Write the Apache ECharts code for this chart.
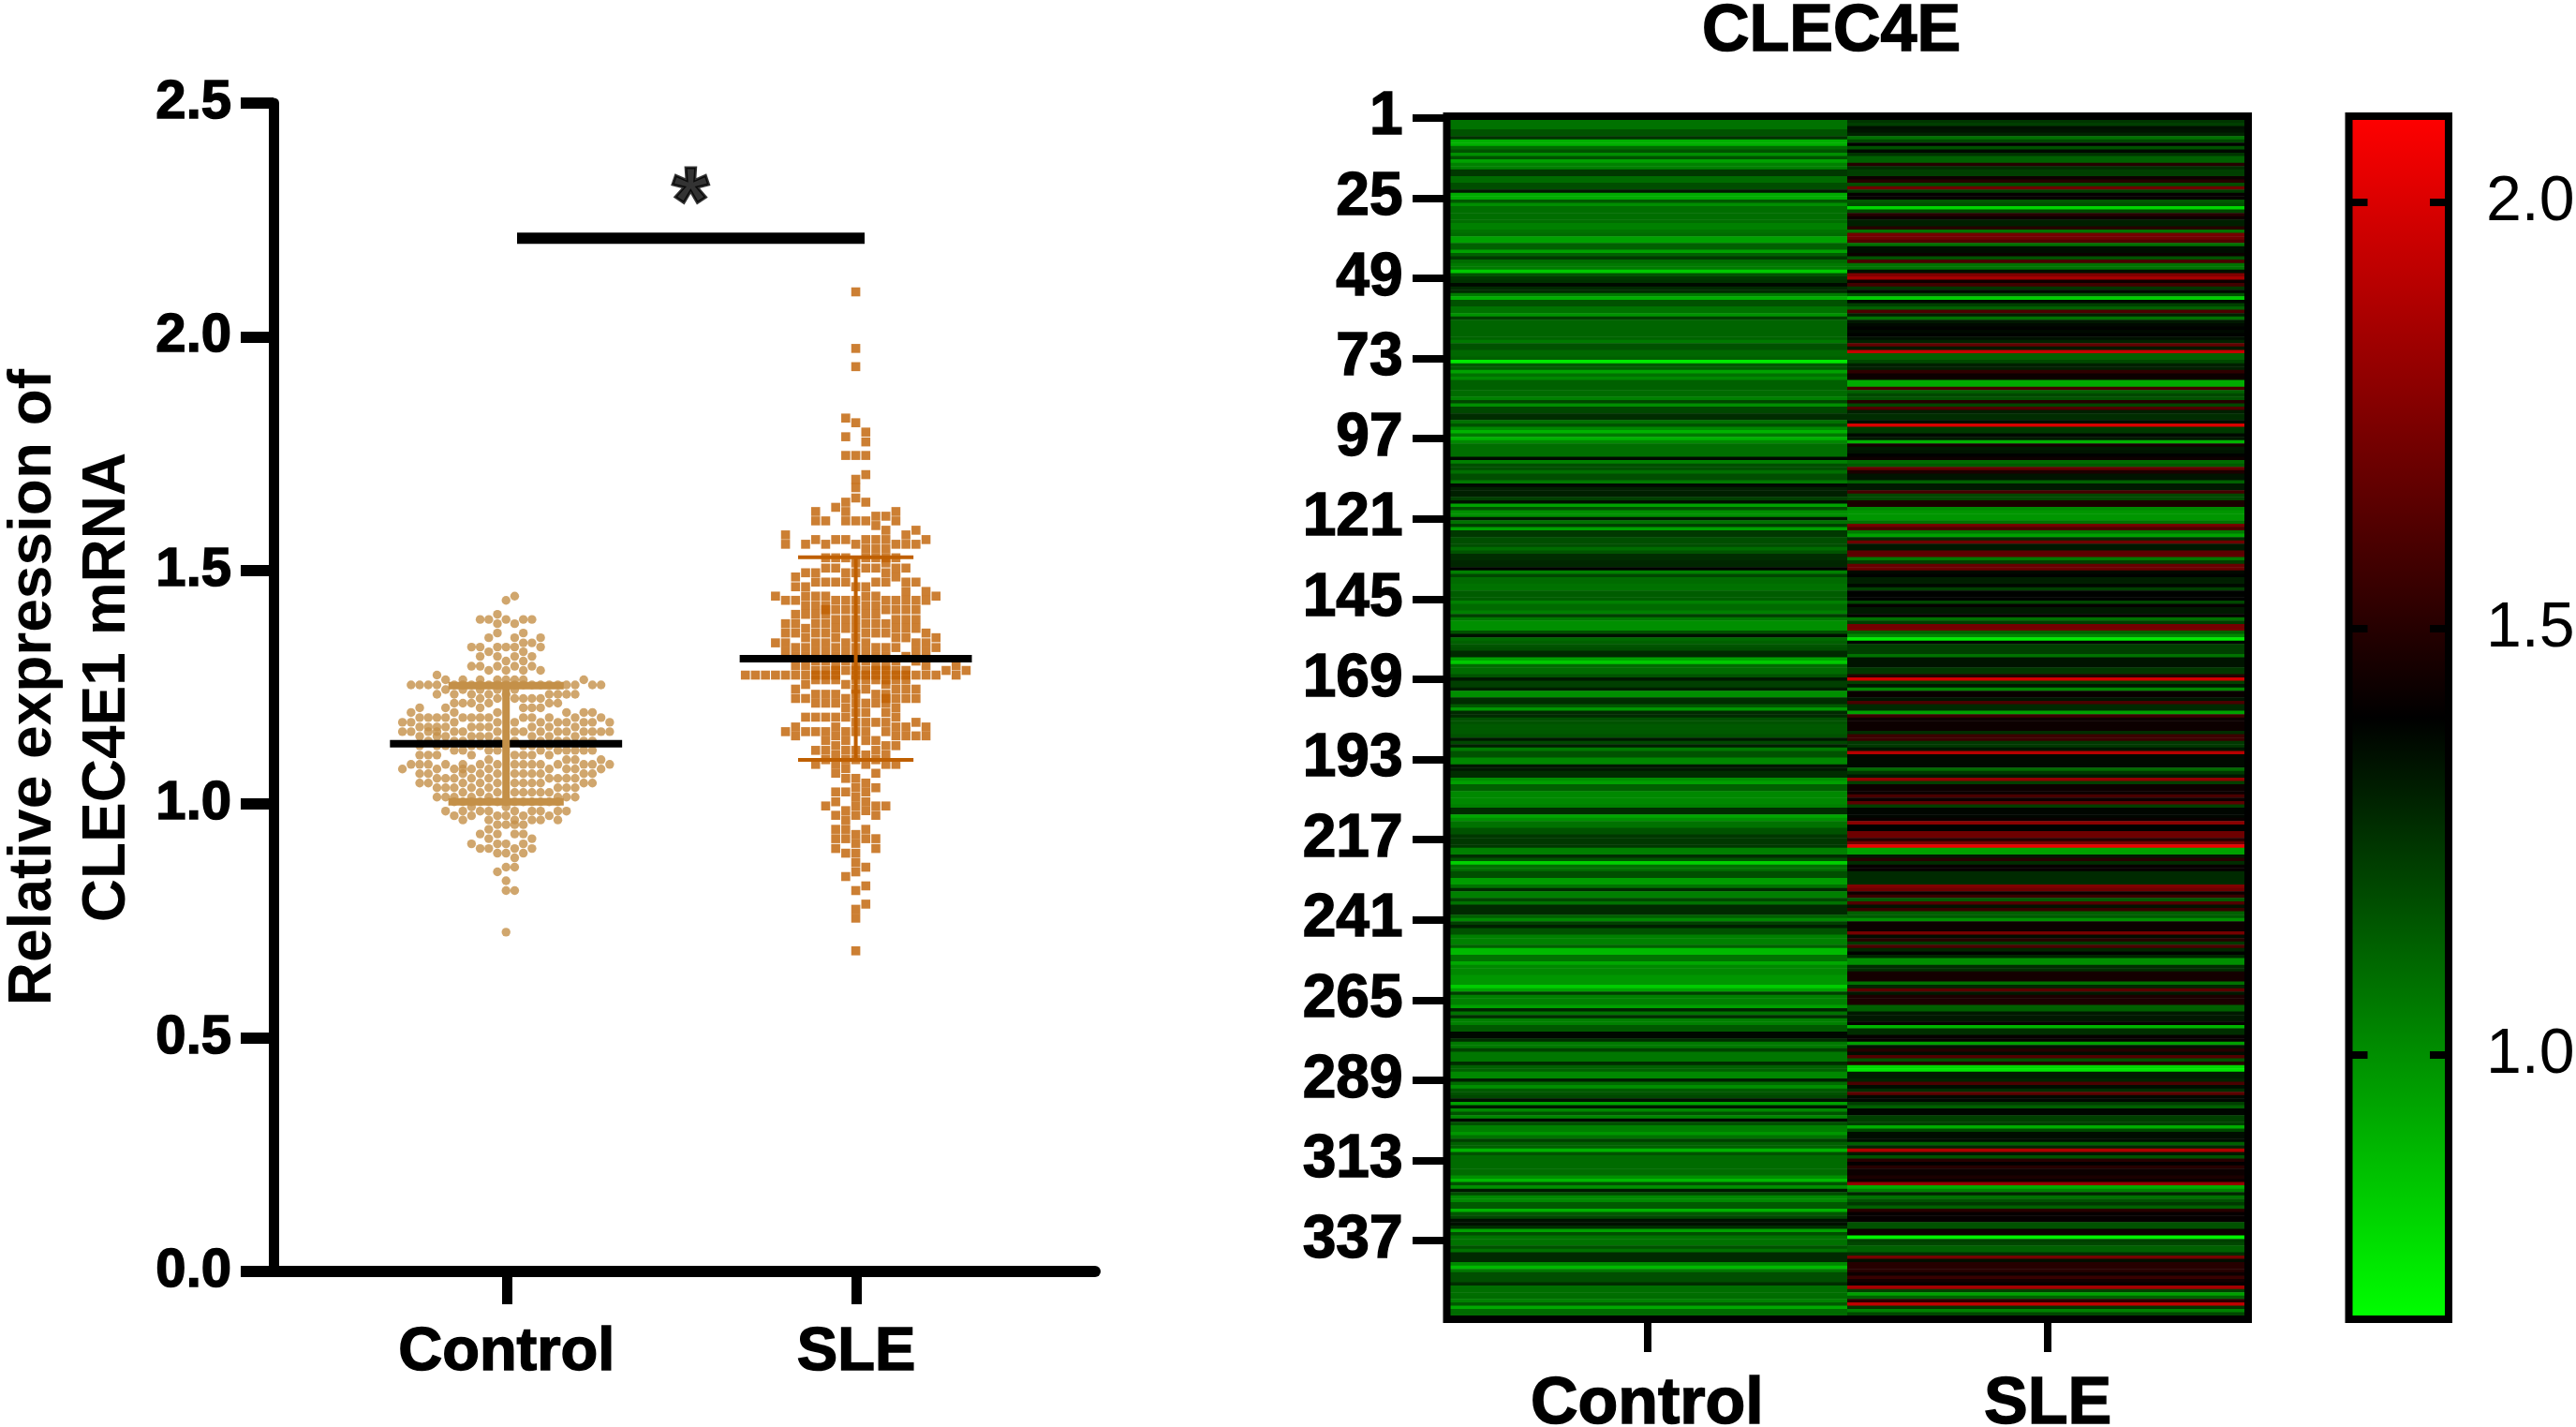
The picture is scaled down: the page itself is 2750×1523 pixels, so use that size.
<!DOCTYPE html>
<html>
<head>
<meta charset="utf-8">
<style>html,body{margin:0;padding:0;background:#fff}#c{width:2750px;height:1523px}</style>
<script src="https://cdn.jsdelivr.net/npm/echarts@6/dist/echarts.min.js"></script>
</head>
<body>
<div id="c"></div>
<script>
// ---- swarm data: each row is [value, swarm slots holding that value...]
const controlRows = [
[1.445,1],[1.436,0],[1.406,-1],[1.395,-3,-2,0,2,3],[1.386,-1,1],[1.366,-1,2],[1.356,-2,1,4],[1.345,2,3],
[1.336,-4,-3,-1,0,1,4],[1.326,-2,2],[1.316,-3,-1,1,3],[1.306,0,2],[1.295,-4,-3,-1,1,3],[1.286,-2,0,2,4],
[1.276,-8],[1.266,-7,-5,-3,-1,0,1,2,9],[1.255,-11,-10,-9,-8,-6,-5,-4,-3,-2,-1,0,1,2,3,4,5,6,7,8,10,11],
[1.245,-7,-5,-3,-1,1],[1.235,-8,-6,-4,-2,0,5,6,7,8],[1.226,-3,-1,1,2,3,4],[1.216,-6,-5,-4,-2,5,6],
[1.206,-10,-7,-3,2,3,4],[1.196,-11,-6,-1,7,9,10],[1.185,-10,-9,-8,-7,-5,-4,-3,-2,2,3,5,8,11],
[1.175,-12,-11,-6,-1,1,4,6,7,9,10,12],[1.165,-10,-9,-8,-7,-4,-3,-2,3,5,8],
[1.155,-12,-11,-9,-8,-6,-5,-1,1,2,4,6,7,9,10,11,12],[1.145,-10,-8,-7,-4,-3,-2,3,5,8],
[1.135,-9,-6,-5,-1,1,4,6,7,9,10],[1.125,-10,-8,-7,-4,-3,0,2,3,5],[1.115,-6,-5,-2,-1,4,6,7,8,9,10],
[1.105,-10,-9,-8,-4,1,2,3,5],[1.095,-2,7,8,11],[1.085,-11,-10,-9,-7,-5,-3,-1,1,2,3,4,6,9,10,12],
[1.075,-12,-8,-6,-5,-4,-2,5,7,8,11],[1.065,-10,-9,-5,-3,-1,1,2,3,4,9,10],[1.055,-8,-7,-6,-4,-2,5,6,7,8],
[1.045,-10,-9,-5,-3,-1,1,2,3,4,9,10],[1.035,-8,-7,-6,-4,-2,6,7,8],[1.025,-5,-3,-1,1,2,3,4,5],
[1.015,-8,-7,-6,-4,-2,6,7,8],[1.005,-6,-5,-4,-3,-2,-1,0,1,2,3,4,5,6],[0.994,-4,0],
[0.985,-7,-5,-3,-2,1,3,4,6,7],[0.975,-6,-4,-1,0,2,5],[0.966,-5,-2,1,3,4,6],[0.956,-1,0,1,2],[0.946,-2],
[0.936,-3,-1,1,2],[0.926,-2,3],[0.915,-4,-1,0,2],[0.905,-3,-2,1,3],[0.895,-1,0,2],[0.885,1],
[0.865,0,1],[0.855,-1],[0.836,0],[0.815,0,1],[0.726,0]
];
const sleRows = [
[2.096,0],[1.975,0],[1.936,0],[1.826,-1],[1.816,0],[1.796,1],[1.786,-1],[1.775,1],[1.746,-1,0,1],[1.705,1],
[1.695,0],[1.677,0],[1.655,0],[1.646,-1,1],[1.635,-2],[1.626,-4,-1,4],[1.616,2,3],[1.606,-4,-3,-1,0,1,4],
[1.596,2],[1.586,3,6],[1.576,-7,5],[1.566,-4,-2,-1,1,2,3,7],[1.556,-7,-5,-3,0,4,5,6],[1.546,1,2,3],
[1.527,-3,-2,-1,1,2,3,4],[1.516,0,3],[1.505,-3,-2,1,2,4,5],[1.495,-5,-4,-1,0,3],[1.486,-6,4],
[1.475,-4,-3,-2,-1,2,3,5,6],[1.465,-6,-5,0,1],[1.455,5,7],[1.445,-8,-5,-4,-3,1,2,8],
[1.436,-7,-6,-2,-1,0,3,4,5,6,7],[1.425,-5,-4,-3,1,2],[1.416,-3,-2,-1,0,3,4,5,6],[1.406,-6,-5,-4,-3,1,2],
[1.395,-2,-1,0,4,5,6],[1.386,-7,-6,-4,-3,1,2,3],[1.376,-5,-2,-1,0,4,5,6],[1.366,-7,-6,-4,-3,1,2,3,7],
[1.356,-5,-2,0,4,5,8],[1.345,-8,-7,-4,-3,-1,1,6,7],[1.335,-6,-5,-2,0,2,3,4,8],[1.326,-7,-4,-3,-1,1,6,7],
[1.316,-6,-5,-2,0,2,3,5],[1.306,-4,-3,-1,1,4,6],[1.296,-6,-5,-2,0,2,3,7,10],
[1.286,-4,-3,-2,-1,0,1,2,3,4,5,9,11],
[1.276,-11,-10,-9,-8,-7,-6,-5,-4,-3,-2,0,1,2,3,4,5,6,7,8,10],[1.266,-4,-3,-2,0,1,2,3,4,5],[1.256,-5,-1,3],
[1.246,-6,0,1,4,5,6],[1.235,-4,-3,-2,0,2,3],[1.226,-6,-5,-1,3,4,5,6],[1.216,-4,-3,-2,0,1,2,3],[1.206,-1,4],
[1.196,0,1,3],[1.186,-5,-4,-3,-2,-1,4],[1.175,0,1,2,3,6],[1.165,-6,-2,4,5,7],[1.155,-7,-5,-4,-3,-1,0,1,3],
[1.146,-6,-2,4,5,6,7],[1.136,-3,-1,1,2],[1.125,-2,3,4],[1.115,-4,-3,-1,0,2],[1.105,-2,1,3],[1.095,-3,-1,0,2],
[1.085,-4,-2,1,3,4],[1.076,-1],[1.066,-2,2],[1.055,-1,0],[1.045,1],[1.035,0,2],[1.026,-2,-1,1],[1.015,0],
[1.005,-2,1],[0.996,-3,0,2,3],[0.986,-1,1],[0.976,-2,0,2],[0.966,-1],[0.946,-2,-1,1],[0.935,0],
[0.926,-2,-1,1,2],[0.916,0],[0.905,-2,2],[0.895,-1,0],[0.875,0],[0.865,1],[0.855,0],[0.845,-1],[0.825,1],
[0.815,0],[0.786,1],[0.775,0],[0.756,0],[0.686,0]
];
const controlMean = 1.129, controlSdLow = 1.005, controlSdHigh = 1.2535;
const sleMean = 1.311, sleSdLow = 1.0945, sleSdHigh = 1.528;
const sigBarY = 2.211;
const categories = ['Control', 'SLE'];

// ---- heat map rows, top to bottom
const heatControl = [
1.15,1.08,1.08,1.08,1.17,1.17,1.26,.91,.91,1.1,
1.17,1.0,1.17,.95,1.04,1.04,1.24,1.24,1.1,1.1,
1.18,1.18,1.33,.92,.92,1.15,1.0,1.09,1.09,1.09,
1.09,1.09,1.04,1.04,1.08,1.1,.95,.95,1.13,1.13,
.95,1.13,1.24,1.1,1.06,1.06,.84,1.17,1.24,1.26,
1.37,1.28,1.28,1.06,.91,1.17,1.17,1.08,1.08,.99,
1.22,1.12,1.12,1.12,1.12,1.12,1.12,1.06,1.17,1.17,
1.11,1.11,1.13,.75,1.15,1.15,.95,1.08,1.02,1.13,
1.13,1.13,1.1,1.1,1.04,1.2,1.0,1.2,1.2,1.27,
1.27,1.08,1.17,1.02,.9,1.06,.9,1.02,1.09,1.09,
1.09,1.09,1.37,1.04,1.18,1.18,1.09,1.18,1.18,1.06,
1.37,1.31,1.31,1.31,1.22,1.35,.95,1.18,1.0,1.0,
1.33,1.08,1.22,.95,1.24,1.24,1.18,1.18,1.18,1.1,
1.17,1.27,1.27,1.29,1.29,1.39,1.04,1.2,1.1,1.1,
1.08,1.08,1.14,1.14,1.14,1.04,1.1,1.1,1.04,1.22,
1.06,1.0,1.0,1.0,1.17,1.35,1.1,1.13,1.16,1.18,
1.28,1.28,.95,.84,1.1,1.1,1.1,1.17,1.33,1.22,
1.22,1.31,1.0,1.0,1.27,1.27,1.15,.98,1.28,1.28,
1.17,1.17,1.15,1.15,1.15,1.17,1.33,1.2,1.31,1.06,
1.17,1.17,1.02,1.02,1.33,1.33,1.27,1.27,1.0,.95,
1.13,1.13,1.02,1.02,1.02,1.02,1.04,1.27,1.27,.93,
1.0,1.08,1.08,1.17,1.17,1.24,1.24,1.24,1.24,1.04,
1.04,1.27,1.17,.82,1.09,1.09,1.18,1.18,.96,.96,
1.08,1.28,1.04,1.04,1.2,1.08,1.28,1.28,1.28,1.13,
1.02,1.22,1.31,1.17,1.17,1.04,1.04,1.04,1.13,.88,
.88,1.08,1.08,.93,1.02,1.02,1.02,.98,.98,.98,
.83,.95,1.22,1.04,1.04,1.04,.95,1.3,1.08,1.27,
1.04,1.04,1.15,1.15,1.37,1.37,1.27,1.06,1.06,1.21,
1.07,1.07,1.07,1.27,1.13,1.13,1.02,1.02,1.31,1.1,
1.0,1.15,1.17,1.2,1.35,.95,1.33,1.02,1.17,1.02,
1.37,1.17,1.04,1.04,.98,1.08,1.22,1.13,1.13,.9,
1.17,1.1,1.1,1.1,1.1,1.1,1.1,1.0,.88,1.17,
1.0,1.33,1.18,1.02,1.02,1.15,1.15,.9,1.15,1.2,
1.35,1.35,1.27,.95,1.18,1.08,1.08,1.08,1.17,1.08,
1.28,1.28,1.28,1.02,.88,1.06,1.18,1.18,1.18,1.27,
1.09,1.09,1.09,1.1,1.04,1.15,.93,1.1,1.1,1.39
];
const heatSLE = [
1.3,1.25,1.22,1.35,1.34,1.3,1.08,1.2,1.4,1.17,
1.37,1.25,1.13,1.13,1.5,1.27,1.22,1.22,1.43,1.5,
1.18,1.7,1.23,1.41,1.41,1.15,1.18,.8,1.2,1.5,
1.43,1.31,1.31,1.5,1.08,1.72,1.7,1.62,1.08,1.35,
1.36,1.43,1.17,1.6,1.08,1.08,1.35,1.75,1.85,1.43,
1.58,1.24,1.37,1.17,.82,1.37,1.22,1.13,1.6,1.31,
1.08,1.33,1.37,1.39,1.37,1.39,1.35,1.3,1.67,1.33,
1.93,1.13,1.13,1.2,1.31,1.31,1.52,1.43,1.43,.92,
.92,1.58,1.13,1.2,1.17,1.5,1.2,1.62,1.31,1.27,
1.27,1.36,2.0,1.24,1.24,1.37,1.33,.9,1.45,1.33,
1.34,1.39,1.43,1.1,1.15,1.67,1.47,1.34,1.34,1.13,
1.33,1.33,1.58,1.2,1.2,1.47,1.47,1.02,.98,.98,
.98,1.08,1.72,1.6,1.06,.95,1.27,1.7,1.33,1.33,
1.65,1.65,1.06,1.22,1.68,1.68,1.37,1.39,1.31,1.31,
1.37,1.22,1.39,1.39,1.39,1.2,1.41,1.33,1.33,1.41,
1.08,1.22,1.72,1.72,1.13,1.02,.74,1.37,1.22,1.22,
1.22,1.08,1.34,1.34,1.34,1.24,1.24,1.5,1.97,1.22,
1.33,1.02,1.42,1.42,1.34,1.6,1.28,1.28,.95,1.56,
1.43,1.43,1.43,1.43,1.27,1.56,1.56,1.24,1.24,1.34,
1.9,1.37,1.37,1.37,1.37,1.1,1.24,1.33,1.8,1.22,
1.43,1.43,1.43,1.6,1.43,1.65,1.22,1.38,1.38,1.38,
1.42,1.78,1.39,1.39,1.7,1.7,1.5,1.7,2.05,.95,
.95,1.33,1.5,1.27,1.41,1.41,1.28,1.28,1.28,1.28,
1.75,1.7,1.43,1.55,1.15,1.62,1.34,1.55,1.13,1.15,
1.0,1.43,1.43,1.43,1.72,1.36,1.5,1.24,1.6,1.29,
1.39,1.29,1.0,1.0,1.27,1.27,1.45,1.45,1.45,1.08,
1.29,1.65,1.33,1.47,1.47,1.47,1.13,1.13,1.33,1.33,
1.33,1.41,.9,1.27,1.27,1.41,1.41,.95,1.34,1.5,
1.36,1.62,1.17,1.5,.8,.76,1.32,1.32,1.3,1.6,
1.36,1.27,1.65,1.37,1.37,1.22,1.13,1.38,1.38,1.22,
1.22,1.22,.92,1.2,1.36,1.36,1.36,1.13,1.29,1.88,
1.33,1.17,1.5,1.4,1.5,1.43,1.43,1.47,1.43,1.8,
.92,1.04,1.29,1.08,1.17,1.24,1.13,1.5,1.41,1.41,
1.41,1.17,1.17,1.43,1.43,.72,1.22,1.2,1.13,1.13,
1.27,1.72,1.36,1.5,1.5,1.5,1.43,1.55,1.45,1.41,
1.85,1.22,.95,1.13,1.5,1.92,1.25,1.04,1.2,1.39
];
const colorMin = 0.69, colorMax = 2.101;
const colorTicks = [1.0, 1.5, 2.0];

const CONTROL_COLOR = '#C49048', SLE_COLOR = '#BF5F00';
const chart = echarts.init(document.getElementById('c'), null, {renderer:'canvas', width:2750, height:1523});
const FONT = '"Liberation Sans", Arial, sans-serif';

const swarm = (rows, centre, step) => rows.flatMap(r => r.slice(1).map(s => [centre + s * step, r[0]]));
const seg = (a, b, color, width) => ({
  type:'line', xAxisIndex:0, yAxisIndex:0, data:[a, b], showSymbol:false, symbol:'none', silent:true,
  lineStyle:{color, width, cap:'butt'}, animation:false
});
const heatData = [];
heatControl.forEach((v, i) => heatData.push([0, i, v]));
heatSLE.forEach((v, i) => heatData.push([1, i, v]));
const rowNames = heatControl.map((_, i) => String(i + 1));

const CX = 0.9985, SX = 1.9987, HW = 0.332;
const heavy = {textBorderColor:'#000', textBorderWidth:1.5};
chart.setOption({
  animation:false,
  backgroundColor:'#fff',
  title:{text:'CLEC4E', left:1950, top:30, textAlign:'center', textVerticalAlign:'middle',
    textStyle:{fontFamily:FONT, fontWeight:'bold', fontSize:70, color:'#000', ...heavy}},
  grid:[
    {left:292, top:110, width:877, height:1247, outerBoundsMode:'none'},
    {left:1544.5, top:124, width:855.5, height:1284, outerBoundsMode:'none', show:true, borderColor:'#000', borderWidth:8, backgroundColor:'transparent', z:10},
    {left:2507.5, top:124, width:106.5, height:1284, outerBoundsMode:'none', show:true, borderColor:'#000', borderWidth:8, backgroundColor:'transparent', z:10}
  ],
  xAxis:[
    {gridIndex:0, type:'value', min:0.3335, max:2.683, splitLine:{show:false},
     axisLine:{show:true, onZero:false, lineStyle:{color:'#000', width:12}},
     axisTick:{show:true, length:35, customValues:[1, 2], lineStyle:{color:'#000', width:11}},
     axisLabel:{customValues:[1, 2], margin:55, fontFamily:FONT, fontWeight:'bold', fontSize:65, color:'#000', ...heavy,
       formatter:v => categories[Math.round(v) - 1]}},
    {gridIndex:1, type:'category', data:categories, position:'bottom',
     axisLine:{show:false},
     axisTick:{show:true, alignWithLabel:true, length:35, lineStyle:{color:'#000', width:8}},
     axisLabel:{margin:57, fontFamily:FONT, fontWeight:'bold', fontSize:70, color:'#000', ...heavy}},
    {gridIndex:2, type:'category', data:[''], show:false}
  ],
  yAxis:[
    {gridIndex:0, type:'value', min:0, max:2.5, interval:0.5, splitLine:{show:false},
     name:'Relative expression of\nCLEC4E1 mRNA', nameLocation:'center', nameRotate:90, nameGap:137,
     nameTextStyle:{fontFamily:FONT, fontWeight:'bold', fontSize:64, color:'#000', lineHeight:79, align:'center'},
     axisLine:{show:true, lineStyle:{color:'#000', width:11}},
     axisTick:{show:true, length:35, lineStyle:{color:'#000', width:12}},
     axisLabel:{margin:45, padding:[6,0,0,0], fontFamily:FONT, fontWeight:'bold', fontSize:58, color:'#000', ...heavy,
       formatter:v => v.toFixed(1)}},
    {gridIndex:1, type:'category', data:rowNames, inverse:true,
     axisLine:{show:false},
     axisTick:{show:true, alignWithLabel:true, interval:23, length:36.5, lineStyle:{color:'#000', width:8}},
     axisLabel:{interval:23, margin:47, padding:[4,0,0,0], fontFamily:FONT, fontWeight:'bold', fontSize:64, color:'#000', ...heavy}},
    {gridIndex:2, type:'value', min:colorMin, max:colorMax, position:'left', z:12, splitLine:{show:false},
     axisLine:{show:false}, axisLabel:{show:false},
     axisTick:{show:true, inside:true, length:20, customValues:colorTicks, lineStyle:{color:'#000', width:8}}},
    {gridIndex:2, type:'value', min:colorMin, max:colorMax, position:'right', z:12, splitLine:{show:false},
     axisLine:{show:false},
     axisTick:{show:true, inside:true, length:20, customValues:colorTicks, lineStyle:{color:'#000', width:8}},
     axisLabel:{customValues:colorTicks, margin:40, fontFamily:FONT, fontSize:68, color:'#000',
       formatter:v => v.toFixed(1)}}
  ],
  visualMap:{show:false, type:'continuous', seriesIndex:0, dimension:2, min:colorMin, max:colorMax,
    inRange:{color:['#00ff00','#000000','#ff0000']}},
  series:[
    {type:'heatmap', xAxisIndex:1, yAxisIndex:1, data:heatData, progressive:0, silent:true, animation:false},
    {type:'bar', xAxisIndex:2, yAxisIndex:2, data:[colorMax], barWidth:'100%', silent:true, animation:false,
     itemStyle:{color:new echarts.graphic.LinearGradient(0,0,0,1,[
       {offset:0,color:'#ff0000'},{offset:0.5,color:'#000000'},{offset:1,color:'#00ff00'}])}},
    seg([CX-HW,controlMean],[CX+HW,controlMean],'#000',8),
    seg([SX-HW,sleMean],[SX+HW,sleMean],'#000',8),
    seg([CX-0.165,controlSdHigh],[CX+0.165,controlSdHigh],CONTROL_COLOR,8),
    seg([CX-0.165,controlSdLow],[CX+0.165,controlSdLow],CONTROL_COLOR,8),
    seg([CX,controlSdLow],[CX,controlSdHigh],CONTROL_COLOR,8),
    seg([SX-0.165,sleSdHigh],[SX+0.165,sleSdHigh],SLE_COLOR,4),
    seg([SX-0.165,sleSdLow],[SX+0.165,sleSdLow],SLE_COLOR,4),
    seg([SX,sleSdLow],[SX,sleSdHigh],SLE_COLOR,4),
    {type:'scatter', xAxisIndex:0, yAxisIndex:0, symbol:'circle', symbolSize:9.4, silent:true, animation:false,
     itemStyle:{color:CONTROL_COLOR}, data:swarm(controlRows, CX, 0.0247)},
    {type:'scatter', xAxisIndex:0, yAxisIndex:0, symbol:'rect', symbolSize:[9.6,9.6], silent:true, animation:false,
     itemStyle:{color:SLE_COLOR}, data:swarm(sleRows, SX, 0.0287)},
    seg([1.03,sigBarY],[2.024,sigBarY],'#000',12),
    {type:'scatter', xAxisIndex:0, yAxisIndex:0, symbol:'circle', symbolSize:1, silent:true, animation:false,
     itemStyle:{color:'transparent'}, data:[[1.526,2.278]],
     label:{show:true, position:'inside', formatter:'*', fontFamily:FONT, fontWeight:'bold', fontSize:100, color:'#000',
       textBorderColor:'#000', textBorderWidth:3}}
  ]
});
</script>
</body>
</html>
